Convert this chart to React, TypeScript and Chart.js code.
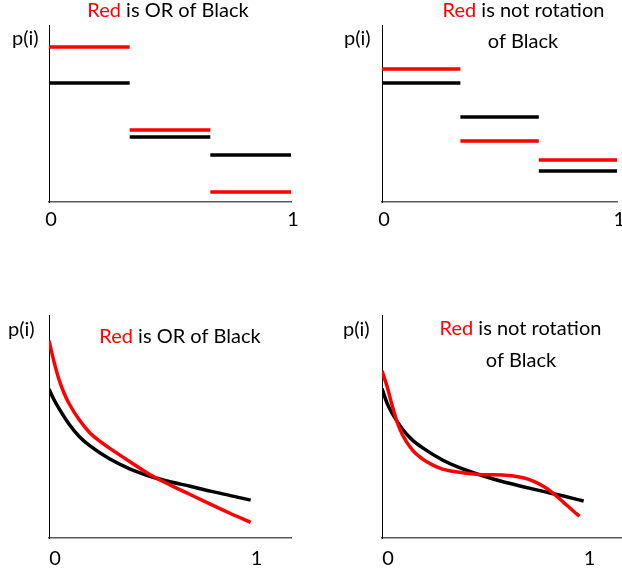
import React, { useEffect, useRef } from "react";
import { Chart, registerables } from "chart.js";

Chart.register(...registerables);

// ---------- data ----------
const xTickValues = [0, 1];
const xTickLabels = ["0", "1"];

// step panels: bin edges and bin heights
const stepEdges = [0, 1 / 3, 2 / 3, 1];
const p1Black = [0.672, 0.367, 0.266];
const p1Red = [0.876, 0.407, 0.056];
const p2Black = [0.672, 0.48, 0.175];
const p2Red = [0.751, 0.345, 0.237];

// curve panels
const p3BlackX = [0, 0.025, 0.05, 0.1, 0.15, 0.2, 0.3, 0.4, 0.5, 0.6, 0.7, 0.8, 0.9, 1.0];
const p3BlackY = [0.668, 0.62, 0.58, 0.51, 0.455, 0.415, 0.355, 0.31, 0.277, 0.252, 0.232, 0.21, 0.19, 0.17];
const p3RedX = [0, 0.025, 0.05, 0.075, 0.1, 0.15, 0.2, 0.25, 0.3, 0.4, 0.5, 0.6, 0.7, 0.8, 0.9, 1.0];
const p3RedY = [0.885, 0.79, 0.71, 0.649, 0.602, 0.53, 0.474, 0.435, 0.403, 0.343, 0.285, 0.238, 0.195, 0.152, 0.11, 0.07];

const p4BlackX = [0, 0.025, 0.05, 0.1, 0.15, 0.2, 0.3, 0.4, 0.5, 0.6, 0.7, 0.8, 0.9, 1.0];
const p4BlackY = [0.67, 0.605, 0.56, 0.49, 0.44, 0.405, 0.35, 0.31, 0.279, 0.252, 0.23, 0.209, 0.188, 0.166];
const p4RedX = [0, 0.025, 0.05, 0.075, 0.1, 0.15, 0.2, 0.25, 0.3, 0.4, 0.5, 0.6, 0.7, 0.75, 0.8, 0.85, 0.9, 0.95, 0.98];
const p4RedY = [0.75, 0.68, 0.595, 0.52, 0.465, 0.395, 0.355, 0.328, 0.309, 0.293, 0.284, 0.282, 0.27, 0.255, 0.232, 0.2, 0.16, 0.12, 0.098];

// texts
const yLabel = "p(i)";
const titleOr = ["Red", " is OR of Black"];
const titleRot1 = ["Red", " is not rotation"];
const titleRot2 = "of Black";

const RED = "#ff0000";
const BLACK = "#000000";
const FONT = "Lato, 'Open Sans', sans-serif";

// ---------- helpers ----------
function stepData(values: number[]) {
  const out: { x: number; y: number | null }[] = [];
  values.forEach((v, i) => {
    out.push({ x: stepEdges[i], y: v });
    out.push({ x: stepEdges[i + 1], y: v });
    out.push({ x: stepEdges[i + 1], y: null });
  });
  return out;
}
function curveData(xs: number[], ys: number[]) {
  return xs.map((x, i) => ({ x, y: ys[i] }));
}

type Run = { text: string; color: string };
type TextItem = { x: number; y: number; align: "left" | "center"; runs: Run[] };

const textPlugin = {
  id: "panelText",
  afterDraw(chart: any, _args: any, opts: any) {
    const ctx = chart.ctx as CanvasRenderingContext2D;
    const items: TextItem[] = opts.items || [];
    ctx.save();
    ctx.font = `${opts.size}px ${FONT}`;
    ctx.textBaseline = "alphabetic";
    ctx.textAlign = "left";
    for (const it of items) {
      const total = it.runs.reduce((s, r) => s + ctx.measureText(r.text).width, 0);
      let x = it.align === "left" ? it.x : it.x - total / 2;
      for (const r of it.runs) {
        ctx.fillStyle = r.color;
        ctx.fillText(r.text, x, it.y);
        x += ctx.measureText(r.text).width;
      }
    }
    ctx.restore();
  },
};

type PanelCfg = {
  left: number;
  top: number;
  w: number;
  h: number;
  padding: { left: number; top: number; right: number; bottom: number };
  axisH: number;
  xMax: number;
  tickPad: number;
  labelOffset: number;
  datasets: { data: any[]; color: string; smooth: boolean }[];
  texts: TextItem[];
};

function makeConfig(p: PanelCfg): any {
  return {
    type: "scatter",
    data: {
      datasets: p.datasets.map((d) => ({
        data: d.data,
        borderColor: d.color,
        backgroundColor: d.color,
        borderWidth: 3.5,
        showLine: true,
        pointRadius: 0,
        pointHoverRadius: 0,
        spanGaps: false,
        tension: 0,
        cubicInterpolationMode: d.smooth ? "monotone" : "default",
      })),
    },
    options: {
      animation: false,
      responsive: false,
      events: [],
      layout: { padding: p.padding },
      plugins: {
        legend: { display: false },
        tooltip: { enabled: false },
        panelText: { items: p.texts, size: 20 },
      },
      scales: {
        x: {
          type: "linear",
          min: 0,
          max: p.xMax,
          grid: { display: false, drawTicks: false },
          border: { display: true, color: "#595959", width: 1.5 },
          ticks: {
            color: BLACK,
            font: { family: FONT, size: 20, lineHeight: 1 },
            padding: p.tickPad,
            labelOffset: p.labelOffset,
            maxRotation: 0,
            autoSkip: false,
            callback: (_v: any, i: number) => xTickLabels[i],
          },
          afterBuildTicks: (axis: any) => {
            axis.ticks = xTickValues.map((v) => ({ value: v }));
          },
          afterFit: (axis: any) => {
            axis.height = p.axisH;
          },
        },
        y: {
          type: "linear",
          min: 0,
          max: 1,
          grid: { display: false, drawTicks: false },
          border: { display: true, color: BLACK, width: 1 },
          ticks: { display: false },
          afterFit: (axis: any) => {
            axis.width = 0;
          },
        },
      },
    },
    plugins: [textPlugin],
  };
}

const run = (text: string, color: string): Run => ({ text, color });

const panels: PanelCfg[] = [
  {
    left: 0,
    top: 0,
    w: 311,
    h: 288,
    padding: { left: 49, top: 25, right: 20, bottom: 46 },
    axisH: 40,
    xMax: 1,
    tickPad: 8,
    labelOffset: 2,
    datasets: [
      { data: stepData(p1Red), color: RED, smooth: false },
      { data: stepData(p1Black), color: BLACK, smooth: false },
    ],
    texts: [
      { x: 168, y: 17, align: "center", runs: [run(titleOr[0], RED), run(titleOr[1], BLACK)] },
      { x: 12, y: 45, align: "left", runs: [run(yLabel, BLACK)] },
    ],
  },
  {
    left: 311,
    top: 0,
    w: 320,
    h: 288,
    padding: { left: 71, top: 25, right: 7, bottom: 46 },
    axisH: 40,
    xMax: 1,
    tickPad: 8,
    labelOffset: 2,
    datasets: [
      { data: stepData(p2Red), color: RED, smooth: false },
      { data: stepData(p2Black), color: BLACK, smooth: false },
    ],
    texts: [
      { x: 212.5, y: 17, align: "center", runs: [run(titleRot1[0], RED), run(titleRot1[1], BLACK)] },
      { x: 212, y: 48, align: "center", runs: [run(titleRot2, BLACK)] },
      { x: 33, y: 45, align: "left", runs: [run(yLabel, BLACK)] },
    ],
  },
  {
    left: 0,
    top: 288,
    w: 311,
    h: 288,
    padding: { left: 49, top: 27, right: 20, bottom: 4 },
    axisH: 34,
    xMax: 1.2,
    tickPad: 11,
    labelOffset: 6,
    datasets: [
      { data: curveData(p3RedX, p3RedY), color: RED, smooth: true },
      { data: curveData(p3BlackX, p3BlackY), color: BLACK, smooth: true },
    ],
    texts: [
      { x: 180, y: 55, align: "center", runs: [run(titleOr[0], RED), run(titleOr[1], BLACK)] },
      { x: 8, y: 48, align: "left", runs: [run(yLabel, BLACK)] },
    ],
  },
  {
    left: 311,
    top: 288,
    w: 320,
    h: 288,
    padding: { left: 71, top: 27, right: 7, bottom: 4 },
    axisH: 34,
    xMax: 1.2,
    tickPad: 11,
    labelOffset: 6,
    datasets: [
      { data: curveData(p4RedX, p4RedY), color: RED, smooth: true },
      { data: curveData(p4BlackX, p4BlackY), color: BLACK, smooth: true },
    ],
    texts: [
      { x: 209.5, y: 47, align: "center", runs: [run(titleRot1[0], RED), run(titleRot1[1], BLACK)] },
      { x: 210, y: 79, align: "center", runs: [run(titleRot2, BLACK)] },
      { x: 32, y: 48, align: "left", runs: [run(yLabel, BLACK)] },
    ],
  },
];

function Panel({ cfg }: { cfg: PanelCfg }) {
  const ref = useRef<HTMLCanvasElement>(null);
  useEffect(() => {
    if (!ref.current) return;
    const chart = new Chart(ref.current, makeConfig(cfg));
    return () => chart.destroy();
  }, [cfg]);
  return (
    <canvas
      ref={ref}
      width={cfg.w}
      height={cfg.h}
      style={{ position: "absolute", left: cfg.left, top: cfg.top, width: cfg.w, height: cfg.h }}
    />
  );
}

export default function App() {
  return (
    <div
      style={{
        position: "absolute",
        left: 0,
        top: 0,
        width: 622,
        height: 576,
        overflow: "hidden",
        background: "#ffffff",
      }}
    >
      {panels.map((p, i) => (
        <Panel key={i} cfg={p} />
      ))}
    </div>
  );
}
